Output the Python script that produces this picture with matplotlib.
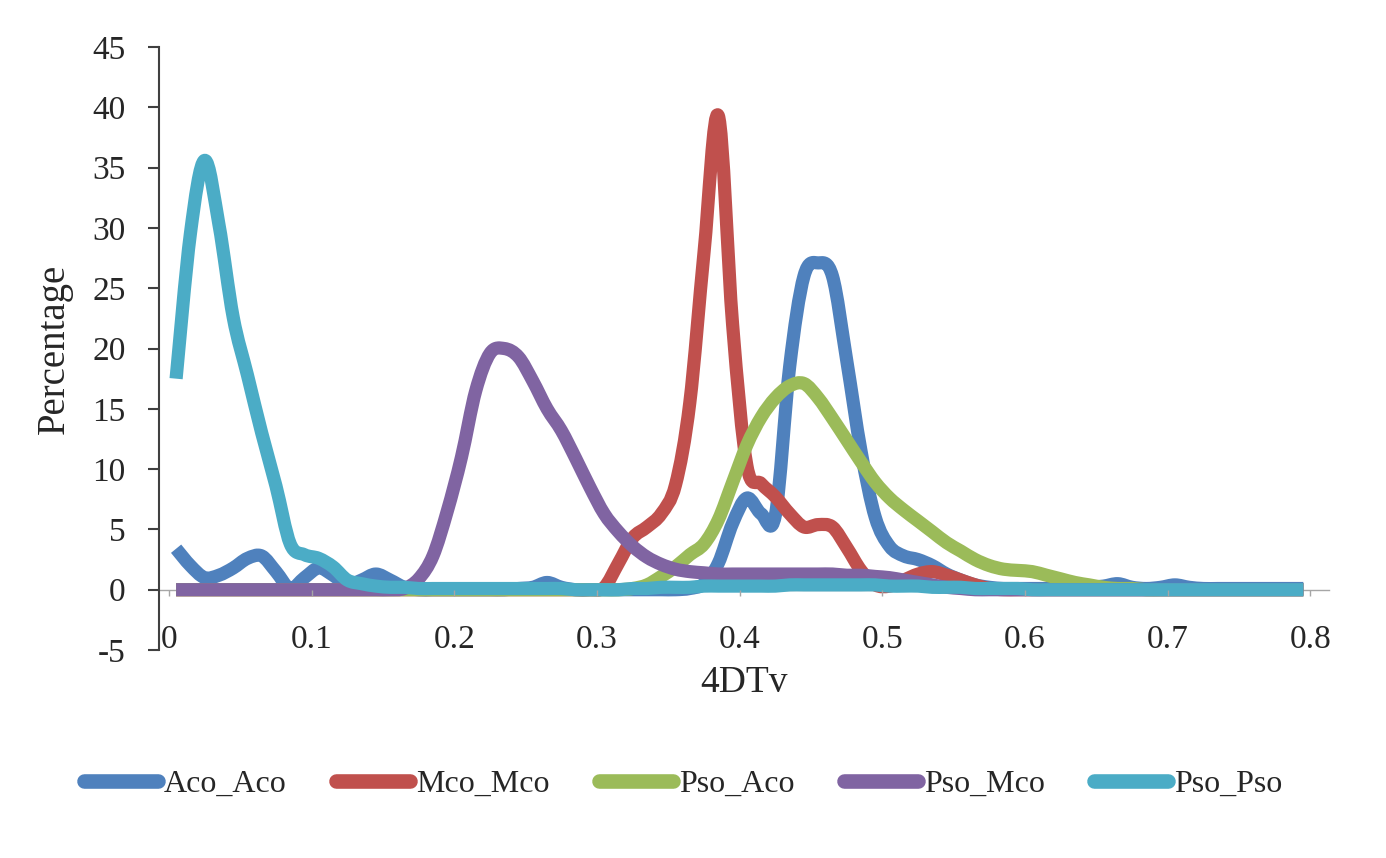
import matplotlib

matplotlib.use("Agg")
import matplotlib.pyplot as plt
from matplotlib.path import Path
from matplotlib.patches import PathPatch
from matplotlib.lines import Line2D

plt.rcParams["font.family"] = ["Liberation Serif", "DejaVu Serif"]
plt.rcParams["axes.unicode_minus"] = False

# 4DTv bin centres
TDTV = [
    0.005, 0.015, 0.025, 0.035, 0.045, 0.055, 0.065, 0.075, 0.085, 0.095,
    0.105, 0.115, 0.125, 0.135, 0.145, 0.155, 0.165, 0.175, 0.185, 0.195,
    0.205, 0.215, 0.225, 0.235, 0.245, 0.255, 0.265, 0.275, 0.285, 0.295,
    0.305, 0.315, 0.325, 0.335, 0.345, 0.355, 0.365, 0.375, 0.385, 0.395,
    0.405, 0.415, 0.425, 0.435, 0.445, 0.455, 0.465, 0.475, 0.485, 0.495,
    0.505, 0.515, 0.525, 0.535, 0.545, 0.555, 0.565, 0.575, 0.585, 0.595,
    0.605, 0.615, 0.625, 0.635, 0.645, 0.655, 0.665, 0.675, 0.685, 0.695,
    0.705, 0.715, 0.725, 0.735, 0.745, 0.755, 0.765, 0.775, 0.785, 0.795,
]

# Percentage per bin
ACO_ACO = [
    3.4, 2.0, 1.0, 1.2, 1.8, 2.6, 2.8, 1.5, 0.1, 1.0,
    1.8, 1.2, 0.4, 0.8, 1.3, 0.8, 0.2, 0.0, 0.0, 0.0,
    0.0, 0.0, 0.0, 0.0, 0.1, 0.2, 0.6, 0.2, 0.0, 0.0,
    0.0, 0.0, 0.0, 0.0, 0.0, 0.0, 0.1, 0.5, 2.2, 5.5,
    7.6, 6.3, 6.2, 18.5, 26.0, 27.1, 26.0, 19.0, 11.5, 6.0,
    3.6, 2.8, 2.5, 2.0, 1.3, 0.8, 0.4, 0.2, 0.1, 0.1,
    0.1, 0.1, 0.1, 0.1, 0.2, 0.3, 0.5, 0.2, 0.1, 0.2,
    0.4, 0.2, 0.1, 0.1, 0.1, 0.1, 0.1, 0.1, 0.1, 0.1,
]
MCO_MCO = [
    0.0, 0.0, 0.0, 0.0, 0.0, 0.0, 0.0, 0.0, 0.0, 0.0,
    0.0, 0.0, 0.0, 0.0, 0.0, 0.0, 0.0, 0.0, 0.0, 0.0,
    0.0, 0.0, 0.0, 0.0, 0.0, 0.0, 0.0, 0.0, 0.0, 0.0,
    0.2, 2.2, 4.3, 5.2, 6.3, 8.7, 15.5, 28.0, 39.3, 22.0,
    10.3, 8.8, 7.7, 6.3, 5.2, 5.4, 5.2, 3.5, 1.6, 0.4,
    0.3, 0.8, 1.3, 1.5, 1.2, 0.8, 0.4, 0.1, 0.0, 0.0,
    0.0, 0.0, 0.0, 0.0, 0.0, 0.0, 0.0, 0.0, 0.0, 0.0,
    0.0, 0.0, 0.0, 0.0, 0.0, 0.0, 0.0, 0.0, 0.0, 0.0,
]
PSO_ACO = [
    0.0, 0.0, 0.0, 0.0, 0.0, 0.0, 0.0, 0.0, 0.0, 0.0,
    0.0, 0.0, 0.0, 0.0, 0.0, 0.0, 0.0, 0.0, 0.0, 0.0,
    0.0, 0.0, 0.0, 0.0, 0.0, 0.0, 0.0, 0.0, 0.0, 0.0,
    0.0, 0.0, 0.1, 0.4, 1.1, 1.9, 2.9, 3.8, 5.8, 8.9,
    12.0, 14.3, 15.9, 16.9, 17.1, 15.9, 14.2, 12.4, 10.6, 8.9,
    7.6, 6.6, 5.7, 4.8, 3.9, 3.2, 2.5, 2.0, 1.7, 1.6,
    1.5, 1.2, 0.9, 0.6, 0.4, 0.2, 0.1, 0.1, 0.0, 0.0,
    0.0, 0.0, 0.0, 0.0, 0.0, 0.0, 0.0, 0.0, 0.0, 0.0,
]
PSO_MCO = [
    0.0, 0.0, 0.0, 0.0, 0.0, 0.0, 0.0, 0.0, 0.0, 0.0,
    0.0, 0.0, 0.0, 0.0, 0.0, 0.0, 0.1, 0.9, 2.8, 6.5,
    11.0, 16.5, 19.6, 20.0, 19.3, 17.3, 15.0, 13.2, 10.9, 8.5,
    6.3, 4.8, 3.6, 2.7, 2.1, 1.7, 1.5, 1.4, 1.3, 1.3,
    1.3, 1.3, 1.3, 1.3, 1.3, 1.3, 1.3, 1.2, 1.2, 1.1,
    1.0, 0.8, 0.6, 0.4, 0.2, 0.1, 0.0, 0.0, 0.0, 0.0,
    0.0, 0.0, 0.0, 0.0, 0.0, 0.0, 0.0, 0.0, 0.0, 0.0,
    0.0, 0.0, 0.0, 0.0, 0.0, 0.0, 0.0, 0.0, 0.0, 0.0,
]
PSO_PSO = [
    17.5, 29.5, 35.6, 30.3, 22.6, 17.8, 13.0, 8.6, 3.8, 2.9,
    2.6, 1.9, 0.8, 0.5, 0.3, 0.2, 0.2, 0.1, 0.1, 0.1,
    0.1, 0.1, 0.1, 0.1, 0.1, 0.1, 0.1, 0.1, 0.0, 0.0,
    0.0, 0.0, 0.1, 0.1, 0.2, 0.2, 0.2, 0.3, 0.3, 0.3,
    0.3, 0.3, 0.3, 0.4, 0.4, 0.4, 0.4, 0.4, 0.4, 0.4,
    0.3, 0.3, 0.3, 0.2, 0.2, 0.2, 0.1, 0.1, 0.1, 0.1,
    0.0, 0.0, 0.0, 0.0, 0.0, 0.0, 0.0, 0.0, 0.0, 0.0,
    0.0, 0.0, 0.0, 0.0, 0.0, 0.0, 0.0, 0.0, 0.0, 0.0,
]

SERIES_NAMES = ["Aco_Aco", "Mco_Mco", "Pso_Aco", "Pso_Mco", "Pso_Pso"]
SERIES_VALUES = [ACO_ACO, MCO_MCO, PSO_ACO, PSO_MCO, PSO_PSO]
# Excel 2007 default palette
COLORS = ["#4F81BD", "#C0504D", "#9BBB59", "#8064A2", "#4BACC6"]

X_TICKS = [0, 0.1, 0.2, 0.3, 0.4, 0.5, 0.6, 0.7, 0.8]
X_TICK_LABELS = ["0", "0.1", "0.2", "0.3", "0.4", "0.5", "0.6", "0.7", "0.8"]
Y_TICKS = [-5, 0, 5, 10, 15, 20, 25, 30, 35, 40, 45]

LW = 9.5
TEXT_COLOR = "#262626"


def smooth_path(xs, ys):
    """Excel-like smoothed line: cubic Bezier through every point."""
    n = len(xs)
    verts = [(xs[0], ys[0])]
    codes = [Path.MOVETO]
    for i in range(n - 1):
        x0, y0 = (xs[i - 1], ys[i - 1]) if i > 0 else (xs[i], ys[i])
        x1, y1 = xs[i], ys[i]
        x2, y2 = xs[i + 1], ys[i + 1]
        x3, y3 = (xs[i + 2], ys[i + 2]) if i + 2 < n else (x2, y2)
        verts += [
            (x1 + (x2 - x0) / 6, y1 + (y2 - y0) / 6),
            (x2 - (x3 - x1) / 6, y2 - (y3 - y1) / 6),
            (x2, y2),
        ]
        codes += [Path.CURVE4] * 3
    return Path(verts, codes)


fig = plt.figure(figsize=(13.86, 8.58), dpi=100)
ax = fig.add_axes([0.1147, 0.2424, 0.8442, 0.7028])

for name, vals, color in zip(SERIES_NAMES, SERIES_VALUES, COLORS):
    patch = PathPatch(
        smooth_path(TDTV, vals),
        facecolor="none",
        edgecolor=color,
        lw=LW,
        capstyle="butt",
        joinstyle="round",
    )
    ax.add_patch(patch)

ax.set_xlim(-0.007, 0.813)
ax.set_ylim(-5, 45)

# axes styling (Excel look)
ax.spines["top"].set_visible(False)
ax.spines["right"].set_visible(False)
ax.spines["left"].set_color("#404040")
ax.spines["left"].set_linewidth(1.5)
ax.spines["bottom"].set_position(("data", 0))
ax.spines["bottom"].set_color("#a6a6a6")
ax.spines["bottom"].set_linewidth(1.0)
ax.spines["bottom"].set_zorder(0)

ax.set_yticks(Y_TICKS)
ax.set_xticks(X_TICKS)
ax.set_xticklabels(X_TICK_LABELS)
ax.tick_params(axis="y", direction="out", length=8, width=1.5, color="#404040",
               pad=16, labelsize=24, labelcolor=TEXT_COLOR)
ax.tick_params(axis="x", direction="out", length=4, width=1.0, color="#a6a6a6",
               pad=21, labelsize=24, labelcolor=TEXT_COLOR)

ax.set_ylabel("Percentage", fontsize=28, color=TEXT_COLOR)
ax.yaxis.label.set_va("center")
ax.yaxis.set_label_coords(-0.089, 0.5)
ax.set_xlabel("4DTv", fontsize=27, color=TEXT_COLOR)
ax.xaxis.label.set_va("center")
ax.xaxis.set_label_coords(0.5, -0.055)

handles = [
    Line2D([], [], color=c, lw=LW + 1, solid_capstyle="round") for c in COLORS
]
fig.legend(
    handles,
    SERIES_NAMES,
    loc="center",
    bbox_to_anchor=(0.493, 0.086),
    ncol=5,
    frameon=False,
    fontsize=23,
    handlelength=2.3,
    handletextpad=0.2,
    columnspacing=1.55,
    labelcolor=TEXT_COLOR,
)

fig.savefig("out.png", dpi=100)
